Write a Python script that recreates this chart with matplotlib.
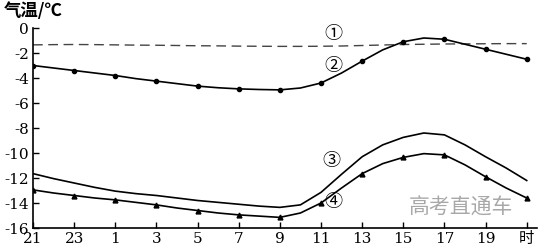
import numpy as np
import matplotlib
matplotlib.use("Agg")
import matplotlib.pyplot as plt

plt.rcParams['font.family'] = ['Noto Sans CJK SC', 'DejaVu Sans']

# hours since 21:00 (21 -> 21 next day)
hours = np.arange(0, 25)
tick_pos = np.arange(0, 25, 2)
tick_labels = ['21', '23', '1', '3', '5', '7', '9', '11', '13', '15', '17', '19', '时']

s1 = [-1.35, -1.33, -1.32, -1.33, -1.35, -1.37, -1.38, -1.40, -1.42, -1.43, -1.45, -1.46, -1.47,
      -1.47, -1.46, -1.44, -1.40, -1.36, -1.32, -1.30, -1.28, -1.27, -1.26, -1.25, -1.25]
s2 = [-3.0, -3.2, -3.4, -3.6, -3.8, -4.05, -4.25, -4.45, -4.65, -4.78, -4.87, -4.92, -4.95,
      -4.8, -4.4, -3.6, -2.65, -1.75, -1.1, -0.8, -0.9, -1.3, -1.7, -2.1, -2.5]
s3 = [-11.65, -12.05, -12.4, -12.75, -13.05, -13.25, -13.4, -13.6, -13.8, -13.95, -14.1, -14.25, -14.35,
      -14.15, -13.15, -11.7, -10.3, -9.35, -8.75, -8.4, -8.55, -9.35, -10.3, -11.2, -12.2]
s4 = [-12.95, -13.2, -13.4, -13.6, -13.75, -13.95, -14.15, -14.4, -14.6, -14.8, -14.95, -15.05, -15.15,
      -14.8, -14.0, -12.8, -11.65, -10.85, -10.35, -10.05, -10.15, -10.95, -11.9, -12.8, -13.6]

yticks = [0, -2, -4, -6, -8, -10, -12, -14, -16]

fig = plt.figure(figsize=(5.44, 2.49), dpi=100)
ax = fig.add_axes([33 / 544, 21 / 249, 504 / 544, 200 / 249])

ax.plot(hours, s1, color='#444444', lw=1.0, dashes=(7, 4))
ax.plot(hours, s2, color='black', lw=1.2, marker='o', ms=3, markevery=2)
ax.plot(hours, s3, color='black', lw=1.2)
ax.plot(hours, s4, color='black', lw=1.2, marker='^', ms=3.5, markevery=2)

labels = ['①', '②', '③', '④']
lab_pos = [(14.6, -0.5), (14.6, -3.0), (14.5, -10.6), (14.6, -13.9)]
for lab, (x, y) in zip(labels, lab_pos):
    ax.text(x, y, lab, fontsize=13, ha='center', va='center', color='black',
            family=['Noto Sans CJK SC', 'DejaVu Sans'])

ax.set_xlim(0, 24.5)
ax.set_ylim(-16, 0)
ax.set_xticks(tick_pos)
ax.set_xticklabels(tick_labels)
ax.set_yticks(yticks)
ax.set_yticklabels([str(v) if v == 0 else '-%d' % -v for v in yticks])
for lab in ax.get_xticklabels() + ax.get_yticklabels():
    lab.set_family(['DejaVu Serif', 'Noto Sans CJK SC'])
    lab.set_fontsize(11)
ax.tick_params(direction='in', length=4, width=1, pad=3)

ax.spines['top'].set_visible(False)
ax.spines['right'].set_visible(False)
ax.spines['left'].set_linewidth(1.2)
ax.spines['bottom'].set_linewidth(1.2)

fig.text(4 / 544, 1 - 11 / 249, '气温/℃', fontsize=12.5, fontweight='bold', va='center', ha='left')
fig.text(461 / 544, 1 - 208 / 249, '高考直通车', fontsize=15, color='#a8a8a8', ha='center', va='center')

fig.savefig('out.png', dpi=100)
